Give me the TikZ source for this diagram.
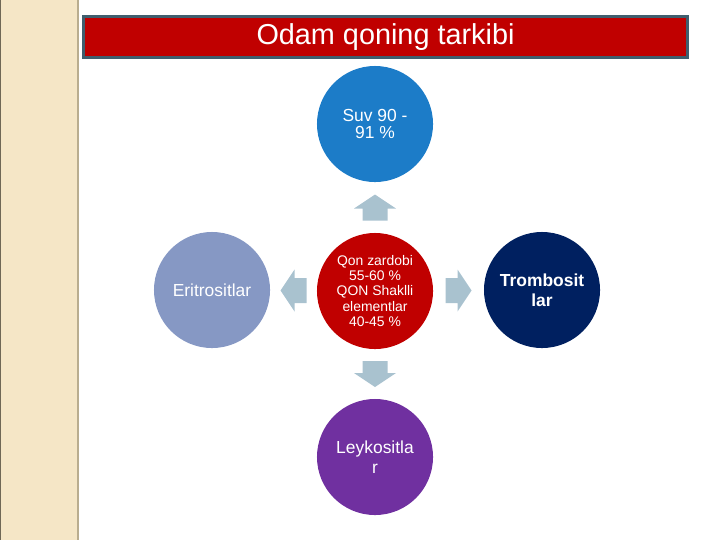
\documentclass[tikz,border=0pt]{standalone}
\usepackage{fontspec}
\setmainfont{Liberation Sans}
\usepackage{tikz}
\usetikzlibrary{calc}

\definecolor{stripe}{HTML}{F5E6C6}
\definecolor{stripeedge}{HTML}{B9AD8F}
\definecolor{titlered}{HTML}{C00000}
\definecolor{titleedge}{HTML}{3F5E6E}
\definecolor{suvblue}{HTML}{1C7CC8}
\definecolor{eriblue}{HTML}{8698C4}
\definecolor{trombnavy}{HTML}{002060}
\definecolor{leypurple}{HTML}{7030A0}
\definecolor{arrowgray}{HTML}{A9C2CF}

\begin{document}
\begin{tikzpicture}[x=0.025cm,y=-0.025cm]
      \tikzset{part/.style={circle,
          minimum size=2.9cm,
          inner sep=0pt,
          fill=#1,
          text=white,
          align=center,
          font=\fontsize{12.4}{12.2}\selectfont}
      }
      \tikzset{arrowfill/.style={fill=arrowgray}}
      \useasboundingbox (0,0) rectangle (720,540);
      % left stripe
      \fill [stripe] (0,0) rectangle (78,540);
      \draw [stripeedge, line width=1.5pt] (78,0)--(78,540);
      \draw [stripeedge!60!black, line width=0.8pt] (0.5,0)--(0.5,540);
      % title
      \node [fill=titlered, draw=titleedge, line width=2pt, minimum width=15.1cm,
        minimum height=1.03cm, text=white, font=\fontsize{20.5}{22}\selectfont]
        (title) at (385.5,37) {Odam qoning tarkibi};
      % circles
      \node [part=titlered, font=\fontsize{9.9}{11}\selectfont] (qon) at (375,291)
        {Qon zardobi\\55-60 \%\\QON Shaklli\\elementlar\\40-45 \%};
      \node [part=suvblue] (suv) at (375,124) {Suv 90 -\\91 \%};
      \node [part=eriblue] (eri) at (212,290) {Eritrositlar};
      \node [part=trombnavy, font=\bfseries\fontsize{12.4}{14.2}\selectfont] (tromb) at (542,290) {Trombosit\\lar};
      \node [part=leypurple, font=\fontsize{12.4}{14.6}\selectfont] (ley) at (375,457) {Leykositla\\r};
      % block arrows between the circles
      \coordinate (up) at ($(qon)!0.5!(suv)$);
      \coordinate (dn) at ($(qon)!0.5!(ley)$);
      \coordinate (lf) at ($(qon)!0.5!(eri)$);
      \coordinate (rt) at ($(qon)!0.5!(tromb)$);
      \foreach \c/\a in {up/90, dn/270, lf/180, rt/0}
        \fill [arrowfill, shift={(\c)}, rotate=\a]
          (-13,-12.5) -- (-1,-12.5) -- (-1,-21) -- (13,0) -- (-1,21) -- (-1,12.5) -- (-13,12.5) -- cycle;

    \end{tikzpicture}
\end{document}
